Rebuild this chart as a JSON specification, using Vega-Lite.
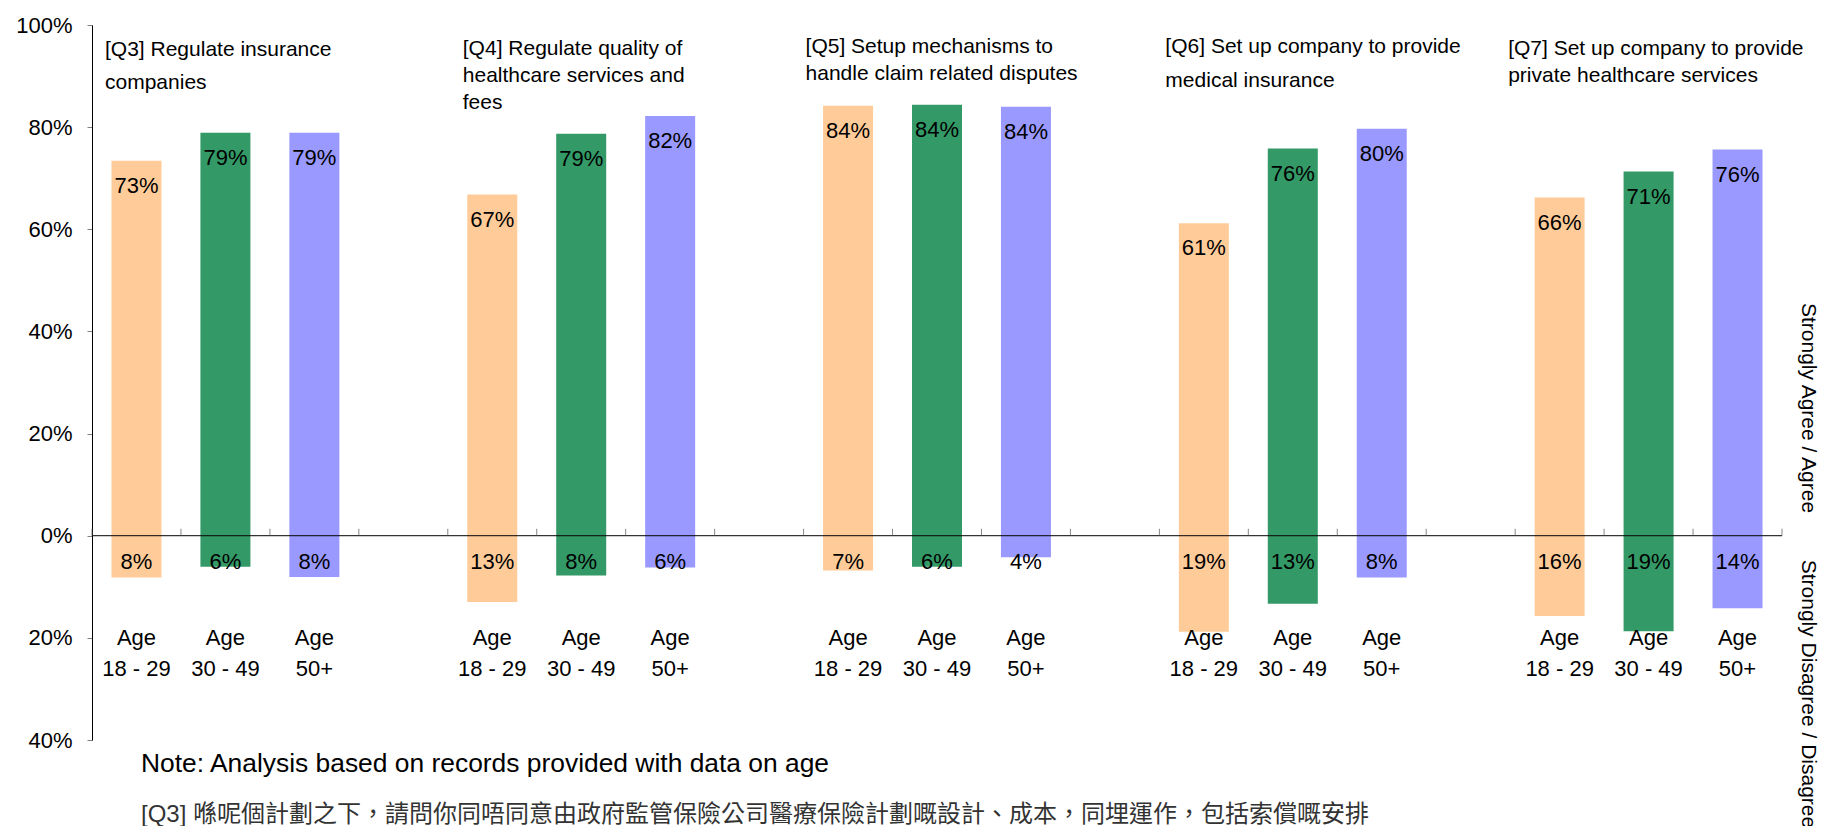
{
  "$schema": "https://vega.github.io/schema/vega-lite/v6.json",
  "autosize": "none",
  "padding": {"left": 92, "top": 25, "right": 40, "bottom": 86},
  "width": 1690,
  "height": 715,
  "background": "white",
  "config": {
    "view": {"stroke": null},
    "font": "Liberation Sans",
    "text": {"font": "Liberation Sans", "color": "black"}
  },
  "datasets": {
    "bars": [
      {"q": "Q3", "age": "18 - 29", "cat": "Q3|Age|18 - 29", "side": "agree", "value": 0.734},
      {"q": "Q3", "age": "30 - 49", "cat": "Q3|Age|30 - 49", "side": "agree", "value": 0.789},
      {"q": "Q3", "age": "50+", "cat": "Q3|Age|50+", "side": "agree", "value": 0.789},
      {"q": "Q3", "age": "18 - 29", "cat": "Q3|Age|18 - 29", "side": "disagree", "value": -0.082},
      {"q": "Q3", "age": "30 - 49", "cat": "Q3|Age|30 - 49", "side": "disagree", "value": -0.061},
      {"q": "Q3", "age": "50+", "cat": "Q3|Age|50+", "side": "disagree", "value": -0.081},
      {"q": "Q4", "age": "18 - 29", "cat": "Q4|Age|18 - 29", "side": "agree", "value": 0.668},
      {"q": "Q4", "age": "30 - 49", "cat": "Q4|Age|30 - 49", "side": "agree", "value": 0.787},
      {"q": "Q4", "age": "50+", "cat": "Q4|Age|50+", "side": "agree", "value": 0.822},
      {"q": "Q4", "age": "18 - 29", "cat": "Q4|Age|18 - 29", "side": "disagree", "value": -0.13},
      {"q": "Q4", "age": "30 - 49", "cat": "Q4|Age|30 - 49", "side": "disagree", "value": -0.078},
      {"q": "Q4", "age": "50+", "cat": "Q4|Age|50+", "side": "disagree", "value": -0.062},
      {"q": "Q5", "age": "18 - 29", "cat": "Q5|Age|18 - 29", "side": "agree", "value": 0.842},
      {"q": "Q5", "age": "30 - 49", "cat": "Q5|Age|30 - 49", "side": "agree", "value": 0.844},
      {"q": "Q5", "age": "50+", "cat": "Q5|Age|50+", "side": "agree", "value": 0.84},
      {"q": "Q5", "age": "18 - 29", "cat": "Q5|Age|18 - 29", "side": "disagree", "value": -0.068},
      {"q": "Q5", "age": "30 - 49", "cat": "Q5|Age|30 - 49", "side": "disagree", "value": -0.061},
      {"q": "Q5", "age": "50+", "cat": "Q5|Age|50+", "side": "disagree", "value": -0.042},
      {"q": "Q6", "age": "18 - 29", "cat": "Q6|Age|18 - 29", "side": "agree", "value": 0.612},
      {"q": "Q6", "age": "30 - 49", "cat": "Q6|Age|30 - 49", "side": "agree", "value": 0.758},
      {"q": "Q6", "age": "50+", "cat": "Q6|Age|50+", "side": "agree", "value": 0.797},
      {"q": "Q6", "age": "18 - 29", "cat": "Q6|Age|18 - 29", "side": "disagree", "value": -0.188},
      {"q": "Q6", "age": "30 - 49", "cat": "Q6|Age|30 - 49", "side": "disagree", "value": -0.133},
      {"q": "Q6", "age": "50+", "cat": "Q6|Age|50+", "side": "disagree", "value": -0.082},
      {"q": "Q7", "age": "18 - 29", "cat": "Q7|Age|18 - 29", "side": "agree", "value": 0.662},
      {"q": "Q7", "age": "30 - 49", "cat": "Q7|Age|30 - 49", "side": "agree", "value": 0.713},
      {"q": "Q7", "age": "50+", "cat": "Q7|Age|50+", "side": "agree", "value": 0.756},
      {"q": "Q7", "age": "18 - 29", "cat": "Q7|Age|18 - 29", "side": "disagree", "value": -0.157},
      {"q": "Q7", "age": "30 - 49", "cat": "Q7|Age|30 - 49", "side": "disagree", "value": -0.187},
      {"q": "Q7", "age": "50+", "cat": "Q7|Age|50+", "side": "disagree", "value": -0.142}
    ],
    "titles": [
      {"q": "Q3", "cat": "Q3|Age|18 - 29", "text": ["[Q3] Regulate insurance", "companies"]},
      {"q": "Q4", "cat": "Q4|Age|18 - 29", "text": ["[Q4] Regulate quality of", "healthcare services and", "fees"]},
      {"q": "Q5", "cat": "Q5|Age|18 - 29", "text": ["[Q5] Setup mechanisms to", "handle claim related disputes"]},
      {"q": "Q6", "cat": "Q6|Age|18 - 29", "text": ["[Q6] Set up company to provide", "medical insurance"]},
      {"q": "Q7", "cat": "Q7|Age|18 - 29", "text": ["[Q7] Set up company to provide", "private healthcare services"]}
    ],
    "notes": [
      {"id": "note", "cat": "Q3|Age|18 - 29", "text": "Note: Analysis based on records provided with data on age"},
      {"id": "q3", "cat": "Q3|Age|18 - 29", "text": "[Q3] 喺呢個計劃之下，請問你同唔同意由政府監管保險公司醫療保險計劃嘅設計、成本，同埋運作，包括索償嘅安排"},
      {"id": "agree", "cat": "Q7|Age|50+", "text": "Strongly Agree / Agree"},
      {"id": "disagree", "cat": "Q7|Age|50+", "text": "Strongly Disagree / Disagree"}
    ]
  },
  "layer": [
    {
      "data": {"name": "bars"},
      "mark": {"type": "bar", "size": 50},
      "encoding": {
        "x": {
          "field": "cat", "type": "nominal", "sort": null,
          "scale": {"domain": ["Q3|Age|18 - 29", "Q3|Age|30 - 49", "Q3|Age|50+", "gap1", "Q4|Age|18 - 29", "Q4|Age|30 - 49", "Q4|Age|50+", "gap2", "Q5|Age|18 - 29", "Q5|Age|30 - 49", "Q5|Age|50+", "gap3", "Q6|Age|18 - 29", "Q6|Age|30 - 49", "Q6|Age|50+", "gap4", "Q7|Age|18 - 29", "Q7|Age|30 - 49", "Q7|Age|50+"], "paddingInner": 0, "paddingOuter": 0},
          "axis": null
        },
        "y": {
          "field": "value",
          "type": "quantitative",
          "stack": null,
          "scale": {"domain": [-0.4, 1.0], "nice": false, "zero": false},
          "axis": {
            "title": null,
            "grid": false,
            "values": [-0.4, -0.2, 0, 0.2, 0.4, 0.6, 0.8, 1.0],
            "labelExpr": "format(abs(datum.value), '.0%')",
            "labelFont": "Liberation Sans",
            "labelFontSize": 22,
            "labelColor": "black",
            "domainColor": "black",
            "tickColor": "#808080",
            "tickSize": 5,
            "labelPadding": 15
          }
        },
        "color": {
          "field": "age",
          "type": "nominal",
          "scale": {"domain": ["18 - 29", "30 - 49", "50+"], "range": ["#FFCC99", "#339966", "#9999FF"]},
          "legend": null
        }
      }
    },
    {
      "data": {"name": "notes"},
      "transform": [{"filter": "datum.id == 'note'"}],
      "mark": {"type": "rule", "color": "black", "strokeWidth": 1},
      "encoding": {
        "y": {"datum": 0, "type": "quantitative"}
      }
    },
    {
      "data": {"name": "bars"},
      "transform": [{"filter": "datum.side == 'agree'"}],
      "mark": {"type": "tick", "orient": "vertical", "size": 7, "thickness": 1, "color": "#555555", "yOffset": -3.5},
      "encoding": {
        "x": {
          "field": "cat", "type": "nominal", "sort": null, "bandPosition": 0,
          "scale": {"domain": ["Q3|Age|18 - 29", "Q3|Age|30 - 49", "Q3|Age|50+", "gap1", "Q4|Age|18 - 29", "Q4|Age|30 - 49", "Q4|Age|50+", "gap2", "Q5|Age|18 - 29", "Q5|Age|30 - 49", "Q5|Age|50+", "gap3", "Q6|Age|18 - 29", "Q6|Age|30 - 49", "Q6|Age|50+", "gap4", "Q7|Age|18 - 29", "Q7|Age|30 - 49", "Q7|Age|50+"], "paddingInner": 0, "paddingOuter": 0}
        },
        "y": {"datum": 0, "type": "quantitative"}
      }
    },
    {
      "data": {"name": "bars"},
      "transform": [{"filter": "datum.side == 'agree' && datum.age == '50+'"}],
      "mark": {"type": "tick", "orient": "vertical", "size": 7, "thickness": 1, "color": "#555555", "yOffset": -3.5},
      "encoding": {
        "x": {
          "field": "cat", "type": "nominal", "sort": null, "bandPosition": 1,
          "scale": {"domain": ["Q3|Age|18 - 29", "Q3|Age|30 - 49", "Q3|Age|50+", "gap1", "Q4|Age|18 - 29", "Q4|Age|30 - 49", "Q4|Age|50+", "gap2", "Q5|Age|18 - 29", "Q5|Age|30 - 49", "Q5|Age|50+", "gap3", "Q6|Age|18 - 29", "Q6|Age|30 - 49", "Q6|Age|50+", "gap4", "Q7|Age|18 - 29", "Q7|Age|30 - 49", "Q7|Age|50+"], "paddingInner": 0, "paddingOuter": 0}
        },
        "y": {"datum": 0, "type": "quantitative"}
      }
    },
    {
      "data": {"name": "bars"},
      "transform": [
        {"filter": "datum.side == 'agree'"},
        {"calculate": "format(abs(datum.value), '.0%')", "as": "label"}
      ],
      "mark": {"type": "text", "fontSize": 22, "baseline": "middle", "align": "center", "dy": 25},
      "encoding": {
        "x": {
          "field": "cat", "type": "nominal", "sort": null,
          "scale": {"domain": ["Q3|Age|18 - 29", "Q3|Age|30 - 49", "Q3|Age|50+", "gap1", "Q4|Age|18 - 29", "Q4|Age|30 - 49", "Q4|Age|50+", "gap2", "Q5|Age|18 - 29", "Q5|Age|30 - 49", "Q5|Age|50+", "gap3", "Q6|Age|18 - 29", "Q6|Age|30 - 49", "Q6|Age|50+", "gap4", "Q7|Age|18 - 29", "Q7|Age|30 - 49", "Q7|Age|50+"], "paddingInner": 0, "paddingOuter": 0}
        },
        "y": {"field": "value", "type": "quantitative"},
        "text": {"field": "label", "type": "nominal"}
      }
    },
    {
      "data": {"name": "bars"},
      "transform": [
        {"filter": "datum.side == 'disagree'"},
        {"calculate": "format(abs(datum.value), '.0%')", "as": "label"}
      ],
      "mark": {"type": "text", "fontSize": 22, "baseline": "middle", "align": "center", "dy": 26},
      "encoding": {
        "x": {
          "field": "cat", "type": "nominal", "sort": null,
          "scale": {"domain": ["Q3|Age|18 - 29", "Q3|Age|30 - 49", "Q3|Age|50+", "gap1", "Q4|Age|18 - 29", "Q4|Age|30 - 49", "Q4|Age|50+", "gap2", "Q5|Age|18 - 29", "Q5|Age|30 - 49", "Q5|Age|50+", "gap3", "Q6|Age|18 - 29", "Q6|Age|30 - 49", "Q6|Age|50+", "gap4", "Q7|Age|18 - 29", "Q7|Age|30 - 49", "Q7|Age|50+"], "paddingInner": 0, "paddingOuter": 0}
        },
        "y": {"datum": 0, "type": "quantitative"},
        "text": {"field": "label", "type": "nominal"}
      }
    },
    {
      "data": {"name": "bars"},
      "transform": [
        {"filter": "datum.side == 'agree'"},
        {"calculate": "['Age', datum.age]", "as": "agelabel"}
      ],
      "mark": {"type": "text", "fontSize": 22, "baseline": "alphabetic", "align": "center", "lineHeight": 31, "dy": 109},
      "encoding": {
        "x": {
          "field": "cat", "type": "nominal", "sort": null,
          "scale": {"domain": ["Q3|Age|18 - 29", "Q3|Age|30 - 49", "Q3|Age|50+", "gap1", "Q4|Age|18 - 29", "Q4|Age|30 - 49", "Q4|Age|50+", "gap2", "Q5|Age|18 - 29", "Q5|Age|30 - 49", "Q5|Age|50+", "gap3", "Q6|Age|18 - 29", "Q6|Age|30 - 49", "Q6|Age|50+", "gap4", "Q7|Age|18 - 29", "Q7|Age|30 - 49", "Q7|Age|50+"], "paddingInner": 0, "paddingOuter": 0}
        },
        "y": {"datum": 0, "type": "quantitative"},
        "text": {"field": "agelabel", "type": "nominal"}
      }
    },
    {
      "data": {"name": "titles"},
      "transform": [{"filter": "datum.q == 'Q3'"}],
      "mark": {"type": "text", "fontSize": 21, "align": "left", "baseline": "alphabetic", "lineHeight": 33, "dx": 13, "dy": 31},
      "encoding": {
        "x": {
          "field": "cat", "type": "nominal", "sort": null, "bandPosition": 0,
          "scale": {"domain": ["Q3|Age|18 - 29", "Q3|Age|30 - 49", "Q3|Age|50+", "gap1", "Q4|Age|18 - 29", "Q4|Age|30 - 49", "Q4|Age|50+", "gap2", "Q5|Age|18 - 29", "Q5|Age|30 - 49", "Q5|Age|50+", "gap3", "Q6|Age|18 - 29", "Q6|Age|30 - 49", "Q6|Age|50+", "gap4", "Q7|Age|18 - 29", "Q7|Age|30 - 49", "Q7|Age|50+"], "paddingInner": 0, "paddingOuter": 0}
        },
        "y": {"datum": 1, "type": "quantitative"},
        "text": {"field": "text", "type": "nominal"}
      }
    },
    {
      "data": {"name": "titles"},
      "transform": [{"filter": "datum.q == 'Q4'"}],
      "mark": {"type": "text", "fontSize": 21, "align": "left", "baseline": "alphabetic", "lineHeight": 27, "dx": 15, "dy": 30},
      "encoding": {
        "x": {
          "field": "cat", "type": "nominal", "sort": null, "bandPosition": 0,
          "scale": {"domain": ["Q3|Age|18 - 29", "Q3|Age|30 - 49", "Q3|Age|50+", "gap1", "Q4|Age|18 - 29", "Q4|Age|30 - 49", "Q4|Age|50+", "gap2", "Q5|Age|18 - 29", "Q5|Age|30 - 49", "Q5|Age|50+", "gap3", "Q6|Age|18 - 29", "Q6|Age|30 - 49", "Q6|Age|50+", "gap4", "Q7|Age|18 - 29", "Q7|Age|30 - 49", "Q7|Age|50+"], "paddingInner": 0, "paddingOuter": 0}
        },
        "y": {"datum": 1, "type": "quantitative"},
        "text": {"field": "text", "type": "nominal"}
      }
    },
    {
      "data": {"name": "titles"},
      "transform": [{"filter": "datum.q == 'Q5'"}],
      "mark": {"type": "text", "fontSize": 21, "align": "left", "baseline": "alphabetic", "lineHeight": 27, "dx": 2, "dy": 28},
      "encoding": {
        "x": {
          "field": "cat", "type": "nominal", "sort": null, "bandPosition": 0,
          "scale": {"domain": ["Q3|Age|18 - 29", "Q3|Age|30 - 49", "Q3|Age|50+", "gap1", "Q4|Age|18 - 29", "Q4|Age|30 - 49", "Q4|Age|50+", "gap2", "Q5|Age|18 - 29", "Q5|Age|30 - 49", "Q5|Age|50+", "gap3", "Q6|Age|18 - 29", "Q6|Age|30 - 49", "Q6|Age|50+", "gap4", "Q7|Age|18 - 29", "Q7|Age|30 - 49", "Q7|Age|50+"], "paddingInner": 0, "paddingOuter": 0}
        },
        "y": {"datum": 1, "type": "quantitative"},
        "text": {"field": "text", "type": "nominal"}
      }
    },
    {
      "data": {"name": "titles"},
      "transform": [{"filter": "datum.q == 'Q6'"}],
      "mark": {"type": "text", "fontSize": 21, "align": "left", "baseline": "alphabetic", "lineHeight": 34, "dx": 6, "dy": 28},
      "encoding": {
        "x": {
          "field": "cat", "type": "nominal", "sort": null, "bandPosition": 0,
          "scale": {"domain": ["Q3|Age|18 - 29", "Q3|Age|30 - 49", "Q3|Age|50+", "gap1", "Q4|Age|18 - 29", "Q4|Age|30 - 49", "Q4|Age|50+", "gap2", "Q5|Age|18 - 29", "Q5|Age|30 - 49", "Q5|Age|50+", "gap3", "Q6|Age|18 - 29", "Q6|Age|30 - 49", "Q6|Age|50+", "gap4", "Q7|Age|18 - 29", "Q7|Age|30 - 49", "Q7|Age|50+"], "paddingInner": 0, "paddingOuter": 0}
        },
        "y": {"datum": 1, "type": "quantitative"},
        "text": {"field": "text", "type": "nominal"}
      }
    },
    {
      "data": {"name": "titles"},
      "transform": [{"filter": "datum.q == 'Q7'"}],
      "mark": {"type": "text", "fontSize": 21, "align": "left", "baseline": "alphabetic", "lineHeight": 27, "dx": -7, "dy": 30},
      "encoding": {
        "x": {
          "field": "cat", "type": "nominal", "sort": null, "bandPosition": 0,
          "scale": {"domain": ["Q3|Age|18 - 29", "Q3|Age|30 - 49", "Q3|Age|50+", "gap1", "Q4|Age|18 - 29", "Q4|Age|30 - 49", "Q4|Age|50+", "gap2", "Q5|Age|18 - 29", "Q5|Age|30 - 49", "Q5|Age|50+", "gap3", "Q6|Age|18 - 29", "Q6|Age|30 - 49", "Q6|Age|50+", "gap4", "Q7|Age|18 - 29", "Q7|Age|30 - 49", "Q7|Age|50+"], "paddingInner": 0, "paddingOuter": 0}
        },
        "y": {"datum": 1, "type": "quantitative"},
        "text": {"field": "text", "type": "nominal"}
      }
    },
    {
      "data": {"name": "notes"},
      "transform": [{"filter": "datum.id == 'note'"}],
      "mark": {"type": "text", "fontSize": 26.4, "align": "left", "baseline": "alphabetic", "dx": 49, "dy": 32},
      "encoding": {
        "x": {
          "field": "cat", "type": "nominal", "sort": null, "bandPosition": 0,
          "scale": {"domain": ["Q3|Age|18 - 29", "Q3|Age|30 - 49", "Q3|Age|50+", "gap1", "Q4|Age|18 - 29", "Q4|Age|30 - 49", "Q4|Age|50+", "gap2", "Q5|Age|18 - 29", "Q5|Age|30 - 49", "Q5|Age|50+", "gap3", "Q6|Age|18 - 29", "Q6|Age|30 - 49", "Q6|Age|50+", "gap4", "Q7|Age|18 - 29", "Q7|Age|30 - 49", "Q7|Age|50+"], "paddingInner": 0, "paddingOuter": 0}
        },
        "y": {"datum": -0.4, "type": "quantitative"},
        "text": {"field": "text", "type": "nominal"}
      }
    },
    {
      "data": {"name": "notes"},
      "transform": [{"filter": "datum.id == 'q3'"}],
      "mark": {"type": "text", "fontSize": 24, "font": "Liberation Sans, Noto Sans CJK TC", "color": "#333333", "align": "left", "baseline": "alphabetic", "dx": 49, "dy": 82},
      "encoding": {
        "x": {
          "field": "cat", "type": "nominal", "sort": null, "bandPosition": 0,
          "scale": {"domain": ["Q3|Age|18 - 29", "Q3|Age|30 - 49", "Q3|Age|50+", "gap1", "Q4|Age|18 - 29", "Q4|Age|30 - 49", "Q4|Age|50+", "gap2", "Q5|Age|18 - 29", "Q5|Age|30 - 49", "Q5|Age|50+", "gap3", "Q6|Age|18 - 29", "Q6|Age|30 - 49", "Q6|Age|50+", "gap4", "Q7|Age|18 - 29", "Q7|Age|30 - 49", "Q7|Age|50+"], "paddingInner": 0, "paddingOuter": 0}
        },
        "y": {"datum": -0.4, "type": "quantitative"},
        "text": {"field": "text", "type": "nominal"}
      }
    },
    {
      "data": {"name": "notes"},
      "transform": [{"filter": "datum.id == 'agree'"}],
      "mark": {"type": "text", "fontSize": 21, "angle": 90, "align": "center", "baseline": "middle", "dy": -26},
      "encoding": {
        "x": {
          "field": "cat", "type": "nominal", "sort": null, "bandPosition": 1,
          "scale": {"domain": ["Q3|Age|18 - 29", "Q3|Age|30 - 49", "Q3|Age|50+", "gap1", "Q4|Age|18 - 29", "Q4|Age|30 - 49", "Q4|Age|50+", "gap2", "Q5|Age|18 - 29", "Q5|Age|30 - 49", "Q5|Age|50+", "gap3", "Q6|Age|18 - 29", "Q6|Age|30 - 49", "Q6|Age|50+", "gap4", "Q7|Age|18 - 29", "Q7|Age|30 - 49", "Q7|Age|50+"], "paddingInner": 0, "paddingOuter": 0}
        },
        "y": {"datum": 0.25, "type": "quantitative"},
        "text": {"field": "text", "type": "nominal"}
      }
    },
    {
      "data": {"name": "notes"},
      "transform": [{"filter": "datum.id == 'disagree'"}],
      "mark": {"type": "text", "fontSize": 21, "angle": 90, "align": "left", "baseline": "middle", "dx": 24, "dy": -26},
      "encoding": {
        "x": {
          "field": "cat", "type": "nominal", "sort": null, "bandPosition": 1,
          "scale": {"domain": ["Q3|Age|18 - 29", "Q3|Age|30 - 49", "Q3|Age|50+", "gap1", "Q4|Age|18 - 29", "Q4|Age|30 - 49", "Q4|Age|50+", "gap2", "Q5|Age|18 - 29", "Q5|Age|30 - 49", "Q5|Age|50+", "gap3", "Q6|Age|18 - 29", "Q6|Age|30 - 49", "Q6|Age|50+", "gap4", "Q7|Age|18 - 29", "Q7|Age|30 - 49", "Q7|Age|50+"], "paddingInner": 0, "paddingOuter": 0}
        },
        "y": {"datum": 0, "type": "quantitative"},
        "text": {"field": "text", "type": "nominal"}
      }
    }
  ]
}
